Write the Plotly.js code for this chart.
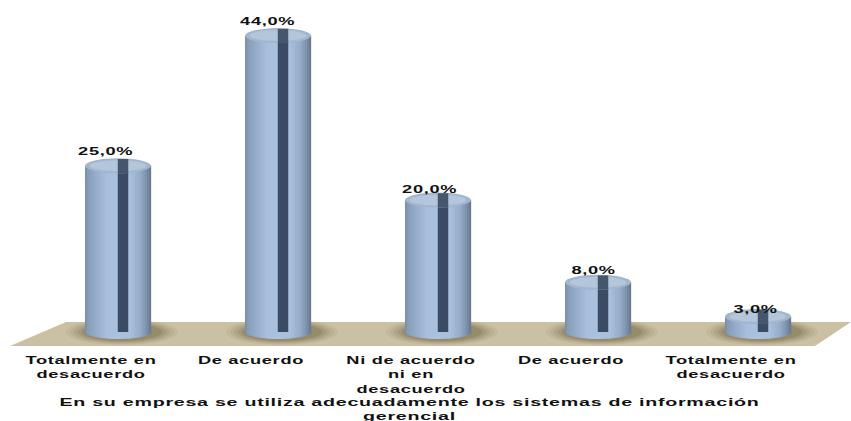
<!DOCTYPE html>
<html>
<head>
<meta charset="utf-8">
<script src="https://cdn.plot.ly/plotly-3.0.1.min.js"></script>
<style>
html,body{margin:0;padding:0;background:#fff;overflow:hidden}
#chart{width:851px;height:421px}
#chart svg text{letter-spacing:0.4px}
</style>
</head>
<body>
<div id="chart"></div>
<script>
// Survey answers, percent of respondents
const categories = ["Totalmente en<br>desacuerdo", "De acuerdo", "Ni de acuerdo<br>ni en<br>desacuerdo", "De acuerdo", "Totalmente en<br>desacuerdo"];
const values = [25, 44, 20, 8, 3];
const axisCaption = "En su empresa se utiliza adecuadamente los sistemas de información<br>gerencial";

// Per-label nudges of the value labels, in pixels
const labelDx = [-13, -11, -9, -5, -3];
const labelLift = [7, 7, 3, 4, -1];

// Plot frame in pixels and the value scale
const W = 851, H = 421;
const frame = {l: 38, r: 13, t: 10, b: 76};
const plotW = W - frame.l - frame.r, plotH = H - frame.t - frame.b;
const pxPerUnit = 6.85;
const yMin = -(frame.t + plotH - 337) / pxPerUnit;
const yMax = yMin + plotH / pxPerUnit;
const pxPerCat = plotW / 5;

// Cylinder geometry, in axis units
const halfWidth = 33 / pxPerCat;
const capRy = 7.5 / pxPerUnit;
const baseRy = 7 / pxPerUnit;
const baseLevel = 5 / pxPerUnit;
const positions = values.map((_, i) => i);

// Shading across a cylinder, left edge to right edge
const shadeStops = [[0,[122,140,164]],[0.05,[136,156,183]],[0.16,[148,171,201]],[0.34,[168,192,222]],[0.5,[170,194,224]],[0.68,[168,192,222]],[0.84,[148,171,200]],[0.94,[122,142,168]],[1,[100,116,138]]];
function shade(t) {
  for (let k = 1; k < shadeStops.length; k++) {
    if (t <= shadeStops[k][0]) {
      const a = shadeStops[k-1], b = shadeStops[k];
      const f = (t - a[0]) / (b[0] - a[0]);
      const c = a[1].map((v, j) => Math.round(v + (b[1][j] - v) * f));
      return `rgb(${c[0]},${c[1]},${c[2]})`;
    }
  }
  return "rgb(100,116,138)";
}

// Each cylinder is a stack of narrow bars that reach the value; their curved feet form the round base
const strips = 33;
const stripW = 2 * halfWidth / strips;
const traces = [];
for (let s = 0; s < strips; s++) {
  const t = (s + 0.5) / strips;
  const u = 2 * t - 1;
  const foot = baseLevel - baseRy * Math.sqrt(1 - u * u);
  traces.push({
    type: "bar", x: positions,
    y: values.map(v => v - foot),
    base: values.map(() => foot),
    width: stripW * 1.08,
    offset: -halfWidth + s * stripW,
    marker: {color: shade(t), line: {width: 0}},
    hoverinfo: "skip", showlegend: false
  });
}

// Dark slot running up the front of each cylinder
const slotW = 10.5 / pxPerCat, slotOffset = 5 / pxPerCat - slotW / 2;
traces.push({
  type: "bar", x: positions,
  y: values.map(v => v - baseLevel),
  base: values.map(() => baseLevel),
  width: slotW, offset: slotOffset,
  marker: {color: "#3a4b63", line: {width: 0}},
  hoverinfo: "skip", showlegend: false
});

const px = x => (x - frame.l) / plotW;
const py = y => (frame.t + plotH - y) / plotH;
const shapes = [];

// Floor plane
shapes.push({type: "path", layer: "below", xref: "paper", yref: "paper",
  path: `M${px(10)},${py(346)} L${px(66)},${py(322)} L${px(851)},${py(322)} L${px(815)},${py(346)} Z`,
  fillcolor: "#cbc0a3", line: {width: 0}});

// Soft shadow pooled around each base, then caps and the slot's end
positions.forEach((p, i) => {
  [[56, 13, 0.07], [52, 12, 0.09], [48, 11, 0.12], [44, 10, 0.15], [40, 9, 0.2]].forEach(([rx, ry, a]) => {
    const cx = p + 4 / pxPerCat, cy = (337 - 332) / pxPerUnit;
    shapes.push({type: "circle", layer: "below", xref: "x", yref: "y",
      x0: cx - rx / pxPerCat, x1: cx + rx / pxPerCat,
      y0: cy - ry / pxPerUnit, y1: cy + ry / pxPerUnit,
      fillcolor: `rgba(96,90,54,${a})`, line: {width: 0}});
  });
  const v = values[i];
  shapes.push({type: "circle", layer: "above", xref: "x", yref: "y",
    x0: p - halfWidth, x1: p + halfWidth, y0: v - capRy, y1: v + capRy,
    fillcolor: "#a3b6cd", line: {width: 0}});
  shapes.push({type: "circle", layer: "above", xref: "x", yref: "y",
    x0: p - halfWidth * 0.86, x1: p + halfWidth * 0.86, y0: v - capRy * 0.72, y1: v + capRy * 0.72,
    fillcolor: "#b4c6db", line: {width: 0}});
  shapes.push({type: "rect", layer: "above", xref: "x", yref: "y",
    x0: p + slotOffset, x1: p + slotOffset + slotW, y0: v - capRy, y1: v + capRy * 0.9,
    fillcolor: "#46566c", line: {width: 0}});
});

const fontFace = "'Liberation Sans', Arial, sans-serif";
const ink = {family: fontFace, size: 11, color: "#111", weight: 700};
const annotations = values.map((v, i) => ({
  x: i + labelDx[i] / pxPerCat, y: v, xref: "x", yref: "y", yanchor: "bottom", showarrow: false,
  yshift: labelLift[i], text: v.toFixed(1).replace(".", ",") + "%", font: ink
}));
annotations.push({
  x: px(409), y: py(394), xref: "paper", yref: "paper", yanchor: "top", xanchor: "center",
  showarrow: false, text: axisCaption, align: "center", font: ink
});

const layout = {
  width: W, height: H, margin: frame, autosize: false,
  paper_bgcolor: "#fff", plot_bgcolor: "rgba(0,0,0,0)",
  barmode: "overlay", showlegend: false,
  xaxis: {range: [-0.5, 4.5], tickmode: "array",
    tickvals: positions.map(p => p - 27 / pxPerCat), ticktext: categories,
    ticklen: 0, ticklabelstandoff: 7, showgrid: false, zeroline: false, showline: false, tickangle: 0,
    tickfont: ink},
  yaxis: {range: [yMin, yMax], visible: false, showgrid: false, zeroline: false},
  shapes, annotations
};

// The lettering is extended sideways about its own centre; the caption runs a little wider
const textStretch = 1.66, captionStretch = 1.79;
Plotly.newPlot("chart", traces, layout, {displayModeBar: false, staticPlot: true}).then(() => {
  document.querySelectorAll("#chart svg text").forEach(el => {
    if (!el.textContent.trim()) return;
    const box = el.getBBox();
    const cx = box.x + box.width / 2;
    const prior = el.getAttribute("transform") || "";
    const s = el.textContent.startsWith("En su") ? captionStretch : textStretch;
    el.setAttribute("transform", `${prior} translate(${cx},0) scale(${s},1) translate(${-cx},0)`);
  });
});
</script>
</body>
</html>
